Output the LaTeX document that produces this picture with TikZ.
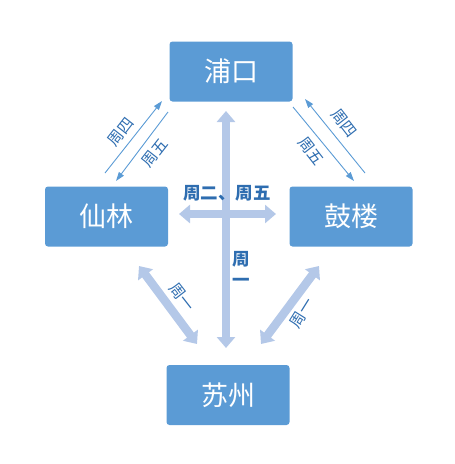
\documentclass[tikz,border=0pt]{standalone}
\usepackage{fontspec}
\setmainfont{Noto Sans CJK SC}
\usetikzlibrary{arrows.meta}
\definecolor{boxblue}{HTML}{5B9BD5}
\definecolor{lightarr}{HTML}{B4C8E8}
\definecolor{labblue}{HTML}{2E6DB0}
\tikzset{
  city/.style={fill=boxblue, rounded corners=3pt, minimum width=123pt, minimum height=60pt, inner sep=0pt, text=white, font=\fontsize{27}{29}\selectfont},
  thick arrow/.style={draw=lightarr, line width=8.5pt, {Triangle[width=18pt,length=11pt]}-{Triangle[width=18pt,length=11pt]}},
  thin arrow/.style={draw=boxblue, line width=0.9pt, -{Triangle[width=6pt,length=9pt]}},
  lab/.style={text=labblue, font=\fontsize{15.5}{16}\selectfont, inner sep=0pt},
  blab/.style={text=labblue, font=\fontsize{17.5}{18}\selectfont\bfseries, inner sep=0pt}
}
\begin{document}
\begin{tikzpicture}[x=1pt,y=-1pt]
\useasboundingbox (0,0) rectangle (455,464);
\node[city] (pk) at (231,71.5) {浦口};
\node[city] (xl) at (106.5,216.5) {仙林};
\node[city] (gl) at (351,216.5) {鼓楼};
\node[city] (sz) at (228,395) {苏州};
% central cross
\coordinate (vt) at (226,111);
\coordinate (vb) at (226,348);
\coordinate (hl) at (179,214);
\coordinate (hr) at (276,214);
\draw[thick arrow] (vt) -- (vb);
\draw[thick arrow] (hl) -- (hr);
% lower diagonal thick arrows
\coordinate (ll1) at (139,266);
\coordinate (ll2) at (197,344);
\coordinate (lr1) at (319,266);
\coordinate (lr2) at (261,344);
\draw[thick arrow] (ll1) -- (ll2);
\draw[thick arrow] (lr1) -- (lr2);
% upper-left thin arrows
\coordinate (a1s) at (105,173);
\coordinate (a1e) at (162,101);
\coordinate (a2s) at (168,112);
\coordinate (a2e) at (116,181);
\draw[thin arrow] (a1s) -- (a1e);
\draw[thin arrow] (a2s) -- (a2e);
% upper-right thin arrows
\coordinate (b1s) at (365,173);
\coordinate (b1e) at (305,99);
\coordinate (b2s) at (293,107);
\coordinate (b2e) at (354,181);
\draw[thin arrow] (b1s) -- (b1e);
\draw[thin arrow] (b2s) -- (b2e);
% labels
\node[lab, rotate=52] (l1) at (121,132) {周四};
\node[lab, rotate=52] (l2) at (155,153) {周五};
\node[lab, rotate=-52] (l3) at (344,123) {周四};
\node[lab, rotate=-52] (l4) at (311,151) {周五};
\node[lab, rotate=-52] (l5) at (182,297) {周一};
\node[lab, rotate=58] (l6) at (302,313) {周一};
\node[blab] (l7) at (227,193) {周二、周五};
\node[blab] (l8) at (241,259) {周};
\node[blab] (l9) at (241,282) {一};
\end{tikzpicture}
\end{document}
